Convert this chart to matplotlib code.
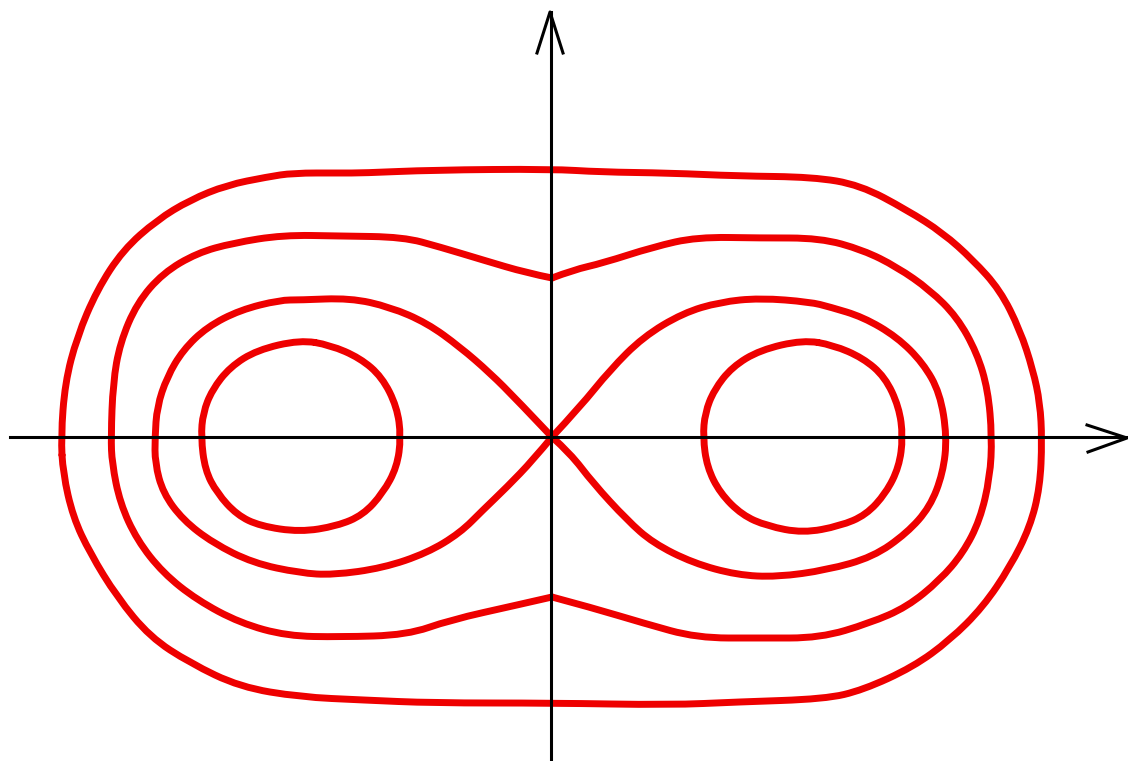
import matplotlib.pyplot as plt
from matplotlib.path import Path
from matplotlib.patches import PathPatch

# image-pixel coordinates (x to the right, y downwards)
W, H = 1128, 761

# axes
x_axis_x = [10, 1127]
x_axis_y = [437, 437]
y_axis_x = [551, 551]
y_axis_y = [12, 761]
x_arrow_x = [1087, 1127, 1088]
x_arrow_y = [425, 438, 452]
y_arrow_x = [537, 550, 563]
y_arrow_y = [53, 12, 53]

# outer oval (closed)
outer_x = [61, 65, 77, 97, 123, 157, 190, 227, 267, 293, 340, 363, 433, 552, 600, 670, 737, 813,
           860, 907, 943, 973, 1000, 1020, 1033, 1040, 1042, 1040, 1030, 1010, 983, 950, 913,
           863, 825, 737, 670, 552, 433, 363, 300, 240, 190, 150, 117, 90, 73, 63]
outer_y = [437, 383, 337, 290, 250, 220, 200, 185, 177, 173, 173, 173, 170, 169, 172, 173, 176, 177,
           185, 210, 233, 260, 290, 330, 370, 403, 440, 487, 527, 567, 607, 640, 667,
           690, 699, 702, 705, 703, 703, 700, 697, 687, 663, 637, 597, 553, 517, 473]

# peanut shaped curve, left and right halves between the two dips
peanut_left_x = [552, 527, 483, 440, 403, 340, 283, 233, 197, 163, 137, 120, 113, 111, 112,
                 120, 137, 163, 197, 240, 287, 340, 407, 450, 517, 552]
peanut_left_y = [278, 273, 260, 247, 237, 236, 235, 243, 253, 273, 303, 343, 383, 437, 463,
                 503, 540, 573, 600, 623, 636, 637, 635, 620, 605, 597]
peanut_right_x = [552, 573, 603, 653, 697, 760, 820, 863, 897, 930, 957, 977, 988, 992, 990, 980,
                  963, 940, 907, 870, 820, 760, 697, 643, 593, 552]
peanut_right_y = [278, 270, 263, 247, 237, 238, 238, 250, 267, 290, 317, 353, 390, 437, 477, 520,
                  553, 580, 607, 623, 638, 638, 638, 623, 608, 597]

# figure eight through the origin, one lobe on each side
eight_left_x = [552, 517, 490, 460, 427, 390, 350, 300, 280, 240, 207, 183, 167, 157, 155, 155,
                163, 183, 213, 253, 300, 333, 383, 427, 460, 483, 507, 533, 552]
eight_left_y = [437, 400, 373, 347, 323, 307, 298, 300, 300, 310, 327, 350, 377, 407, 437, 463,
                493, 520, 543, 563, 573, 575, 568, 553, 533, 510, 487, 460, 437]
eight_right_x = [552, 570, 593, 627, 653, 693, 737, 777, 827, 873, 907, 930, 943, 947, 940, 923,
                 897, 863, 830, 810, 760, 720, 683, 643, 610, 580, 552]
eight_right_y = [437, 453, 483, 520, 543, 563, 575, 577, 570, 557, 533, 507, 473, 437, 393, 363,
                 337, 317, 307, 302, 298, 302, 313, 337, 370, 407, 437]

# small circles round the two foci (closed)
left_x = [300, 257, 230, 212, 203, 201, 205, 217, 237, 260, 300, 337, 363, 383, 397, 401,
          397, 382, 360, 330]
left_y = [340, 350, 367, 390, 413, 437, 470, 493, 515, 526, 532, 526, 515, 493, 467, 437,
          407, 377, 358, 345]
right_x = [803, 760, 732, 714, 705, 703, 707, 720, 742, 767, 803, 840, 866, 886, 899, 903,
           899, 885, 863, 833]
right_y = [340, 350, 367, 390, 413, 437, 467, 493, 515, 526, 533, 526, 515, 493, 467, 437,
           407, 377, 358, 345]


def mid(a, b):
    return ((a[0] + b[0]) / 2, (a[1] + b[1]) / 2)


# quadratic bezier path that uses the read points as control points
def smooth_path(xs, ys, closed):
    pts = list(zip(xs, ys))
    n = len(pts)
    if closed:
        verts = [mid(pts[-1], pts[0])]
        codes = [Path.MOVETO]
        for i in range(n):
            verts += [pts[i], mid(pts[i], pts[(i + 1) % n])]
            codes += [Path.CURVE3, Path.CURVE3]
    else:
        verts = [pts[0]]
        codes = [Path.MOVETO]
        for i in range(1, n - 1):
            end = pts[-1] if i == n - 2 else mid(pts[i], pts[i + 1])
            verts += [pts[i], end]
            codes += [Path.CURVE3, Path.CURVE3]
    return Path(verts, codes)


fig = plt.figure(figsize=(W / 100, H / 100), dpi=100)
ax = fig.add_axes([0, 0, 1, 1])

red = "#ee0000"
curves = [
    (outer_x, outer_y, True),
    (peanut_left_x, peanut_left_y, False),
    (peanut_right_x, peanut_right_y, False),
    (eight_left_x, eight_left_y, False),
    (eight_right_x, eight_right_y, False),
    (left_x, left_y, True),
    (right_x, right_y, True),
]
for xs, ys, closed in curves:
    patch = PathPatch(smooth_path(xs, ys, closed), facecolor="none", edgecolor=red,
                      lw=5, joinstyle="round", capstyle="round", zorder=2)
    ax.add_patch(patch)

ax.plot(x_axis_x, x_axis_y, color="black", lw=2.2, zorder=3)
ax.plot(y_axis_x, y_axis_y, color="black", lw=2.2, zorder=3)
ax.plot(x_arrow_x, x_arrow_y, color="black", lw=2.2, zorder=3)
ax.plot(y_arrow_x, y_arrow_y, color="black", lw=2.2, zorder=3)

ax.set_xlim(0, W)
ax.set_ylim(H, 0)
ax.axis("off")

fig.savefig("out.png", dpi=100, facecolor="white")
